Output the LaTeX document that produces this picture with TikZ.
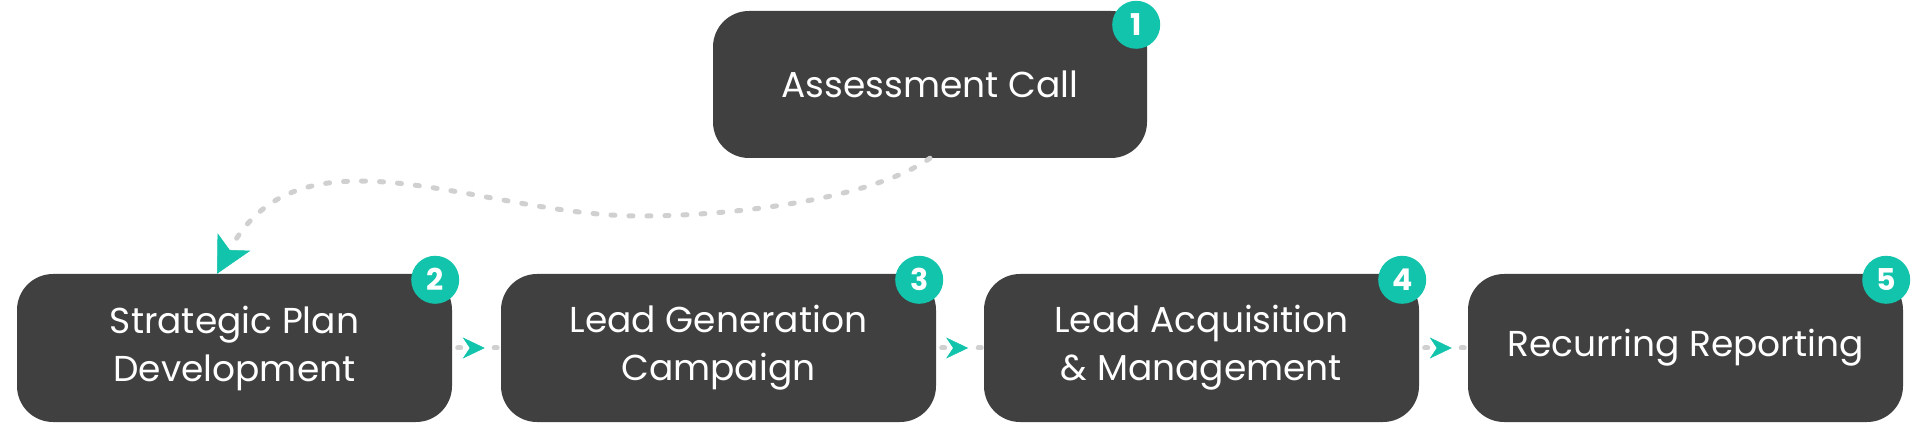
\documentclass[tikz,border=0pt]{standalone}
\usepackage{fontspec}
\setmainfont{Poppins}
\usetikzlibrary{arrows.meta,calc,decorations.markings}
\definecolor{boxgray}{RGB}{64,64,64}
\definecolor{teal1}{RGB}{18,196,172}
\definecolor{dotgray}{RGB}{208,208,208}
\begin{document}
\begin{tikzpicture}[x=1pt,y=-1pt,
  stepbox/.style={rectangle, rounded corners=36pt, fill=boxgray, text=white,
    minimum width=435pt, minimum height=148pt, inner sep=0pt, align=center,
    font=\fontsize{36}{48}\selectfont},
  badge/.style={circle, fill=teal1, text=white, minimum size=48pt, inner sep=0pt,
    font=\bfseries\fontsize{30}{30}\selectfont},
  dotline/.style={draw=dotgray, line width=5pt, line cap=round, dash pattern=on 4pt off 14pt},
  conn/.style={dotline, dash pattern=on 3pt off 33.5pt, dash phase=31pt,
    postaction={decorate},
    decoration={markings, mark=at position 0.67 with
      {\arrow{Stealth[length=22pt,width=21pt,inset=7pt,color=teal1,line width=0.5pt]}}}}
]
\fill[white] (0,0) rectangle (1920,430);

\node[stepbox, minimum width=434pt, minimum height=147pt] (t1) at (930,84.5) {Assessment Call};
\node[stepbox] (s2) at (234.5,348) {Strategic Plan\\Development};
\node[stepbox] (s3) at (718.5,348) {Lead Generation\\Campaign};
\node[stepbox] (s4) at (1201.5,348) {Lead Acquisition\\\& Management};
\node[stepbox] (s5) at (1685.5,348) {Recurring Reporting};

\coordinate (tip) at ($(s2.north)+(-17.5,0)$);
\coordinate (mid) at (640,216);
\draw[dotline, -{Stealth[length=36pt,width=37pt,inset=9pt,color=teal1,line width=0.5pt]}]
  (t1.south) .. controls (870,200) and (730,216) .. (mid)
  .. controls (480,216) and (300,118) .. (tip);

\draw[conn] (s2.east) -- (s3.west);
\draw[conn] (s3.east) -- (s4.west);
\draw[conn] (s4.east) -- (s5.west);

\node[badge] (b1) at ($(t1.north east)+(-11,14)$) {1};
\node[badge] (b2) at ($(s2.north east)+(-17,6)$) {2};
\node[badge] (b3) at ($(s3.north east)+(-17,6)$) {3};
\node[badge] (b4) at ($(s4.north east)+(-17,6)$) {4};
\node[badge] (b5) at ($(s5.north east)+(-17,6)$) {5};
\end{tikzpicture}
\end{document}
